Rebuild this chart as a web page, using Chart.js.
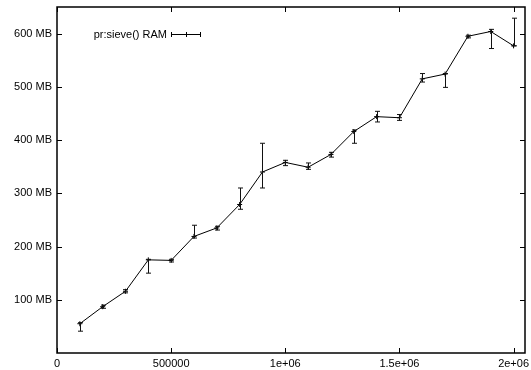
<!DOCTYPE html>
<html>
<head>
<meta charset="utf-8">
<script src="https://cdn.jsdelivr.net/npm/chart.js@4/dist/chart.umd.min.js"></script>
<style>
  html, body { margin: 0; padding: 0; background: #fff; }
  #wrap { width: 531px; height: 370px; }
</style>
</head>
<body>
<div id="wrap"><canvas id="myChart" width="531" height="370"></canvas></div>
<script>
// data
const sizes = [100000, 200000, 300000, 400000, 500000, 600000, 700000, 800000, 900000, 1000000,
               1100000, 1200000, 1300000, 1400000, 1500000, 1600000, 1700000, 1800000, 1900000, 2000000];
const ram     = [55, 87, 116, 175, 174, 219, 235, 279, 340, 358, 349, 373, 416, 444, 442, 515, 524, 595, 604, 577];
const ramLow  = [41, 84, 113, 150, 171, 216, 231, 270, 310, 352, 345, 368, 394, 434, 437, 509, 499, 592, 572, 577];
const ramHigh = [57, 90, 119, 176, 176, 240, 238, 310, 394, 362, 357, 377, 419, 454, 448, 525, 525, 597, 608, 629];

const xTickValues = [0, 500000, 1000000, 1500000, 2000000];
const xTickLabels = ["0", "500000", "1e+06", "1.5e+06", "2e+06"];
const yTickValues = [100, 200, 300, 400, 500, 600];
const yTickLabels = ["100 MB", "200 MB", "300 MB", "400 MB", "500 MB", "600 MB"];
const seriesName = "pr:sieve() RAM";

const font = "'Liberation Sans', Arial, Helvetica, sans-serif";

// zero the label overhang padding so the plot box sits where we want it
function noPad(scale) {
    scale.paddingTop = 0;
    scale.paddingBottom = 0;
    scale.paddingLeft = 0;
    scale.paddingRight = 0;
}

const gnuplotLook = {
    id: "gnuplotLook",
    afterDatasetsDraw(chart) {
        const ctx = chart.ctx;
        const x = chart.scales.x;
        const y = chart.scales.y;
        const area = chart.chartArea;

        ctx.save();
        // error bars
        ctx.strokeStyle = "#111";
        ctx.lineWidth = 1;
        for (let i = 0; i < sizes.length; i++) {
            const px = Math.round(x.getPixelForValue(sizes[i])) + 0.5;
            const lo = y.getPixelForValue(ramLow[i]);
            const hi = y.getPixelForValue(ramHigh[i]);
            ctx.beginPath();
            ctx.moveTo(px, lo);
            ctx.lineTo(px, hi);
            ctx.moveTo(px - 2.5, lo);
            ctx.lineTo(px + 2.5, lo);
            ctx.moveTo(px - 2.5, hi);
            ctx.lineTo(px + 2.5, hi);
            ctx.stroke();
        }

        // frame
        ctx.strokeStyle = "#000";
        ctx.lineWidth = 1.5;
        ctx.strokeRect(area.left, area.top, area.right - area.left, area.bottom - area.top);

        // inward ticks on all sides
        ctx.lineWidth = 1;
        ctx.beginPath();
        for (const v of xTickValues) {
            const px = Math.round(x.getPixelForValue(v)) + 0.5;
            ctx.moveTo(px, area.bottom);
            ctx.lineTo(px, area.bottom - 5);
            ctx.moveTo(px, area.top);
            ctx.lineTo(px, area.top + 5);
        }
        for (const v of yTickValues) {
            const py = Math.round(y.getPixelForValue(v)) + 0.5;
            ctx.moveTo(area.left, py);
            ctx.lineTo(area.left + 5, py);
            ctx.moveTo(area.right, py);
            ctx.lineTo(area.right - 5, py);
        }
        ctx.stroke();

        // key
        const ky = 34.5;
        ctx.fillStyle = "#000";
        ctx.font = "11px " + font;
        ctx.textAlign = "right";
        ctx.textBaseline = "middle";
        ctx.fillText(seriesName, 167, ky);
        ctx.beginPath();
        ctx.moveTo(171, ky);
        ctx.lineTo(201, ky);
        ctx.moveTo(171.5, ky - 2.5);
        ctx.lineTo(171.5, ky + 2.5);
        ctx.moveTo(200.5, ky - 2.5);
        ctx.lineTo(200.5, ky + 2.5);
        ctx.moveTo(186.5, ky - 2.5);
        ctx.lineTo(186.5, ky + 2.5);
        ctx.stroke();
        ctx.restore();
    }
};

const canvas = document.getElementById("myChart");
const chart = new Chart(canvas.getContext("2d"), {
    type: "line",
    data: {
        datasets: [{
            label: seriesName,
            data: sizes.map((s, i) => ({ x: s, y: ram[i] })),
            borderColor: "#000",
            backgroundColor: "#000",
            borderWidth: 1,
            pointStyle: "cross",
            pointRadius: 2.5,
            pointBorderWidth: 1,
            tension: 0,
            fill: false,
            clip: false
        }]
    },
    options: {
        responsive: false,
        animation: false,
        layout: { padding: { top: 7, right: 6, left: 0, bottom: 0 } },
        plugins: {
            legend: { display: false },
            tooltip: { enabled: false }
        },
        scales: {
            x: {
                type: "linear",
                min: 0,
                max: 2050000,
                grid: { display: false, drawTicks: false },
                border: { display: false },
                afterBuildTicks: (scale) => { scale.ticks = xTickValues.map(v => ({ value: v })); },
                afterFit: (scale) => { scale.height = 17; noPad(scale); },
                ticks: {
                    padding: 4,
                    maxRotation: 0,
                    autoSkip: false,
                    color: "#000",
                    font: { family: font, size: 11 },
                    callback: (v) => xTickLabels[xTickValues.indexOf(v)]
                }
            },
            y: {
                type: "linear",
                min: 0,
                max: 650,
                grid: { display: false, drawTicks: false },
                border: { display: false },
                afterBuildTicks: (scale) => { scale.ticks = yTickValues.map(v => ({ value: v })); },
                afterFit: (scale) => { scale.width = 57; noPad(scale); },
                ticks: {
                    padding: 5,
                    autoSkip: false,
                    color: "#000",
                    font: { family: font, size: 11 },
                    callback: (v) => yTickLabels[yTickValues.indexOf(v)]
                }
            }
        }
    },
    plugins: [gnuplotLook]
});
</script>
</body>
</html>
